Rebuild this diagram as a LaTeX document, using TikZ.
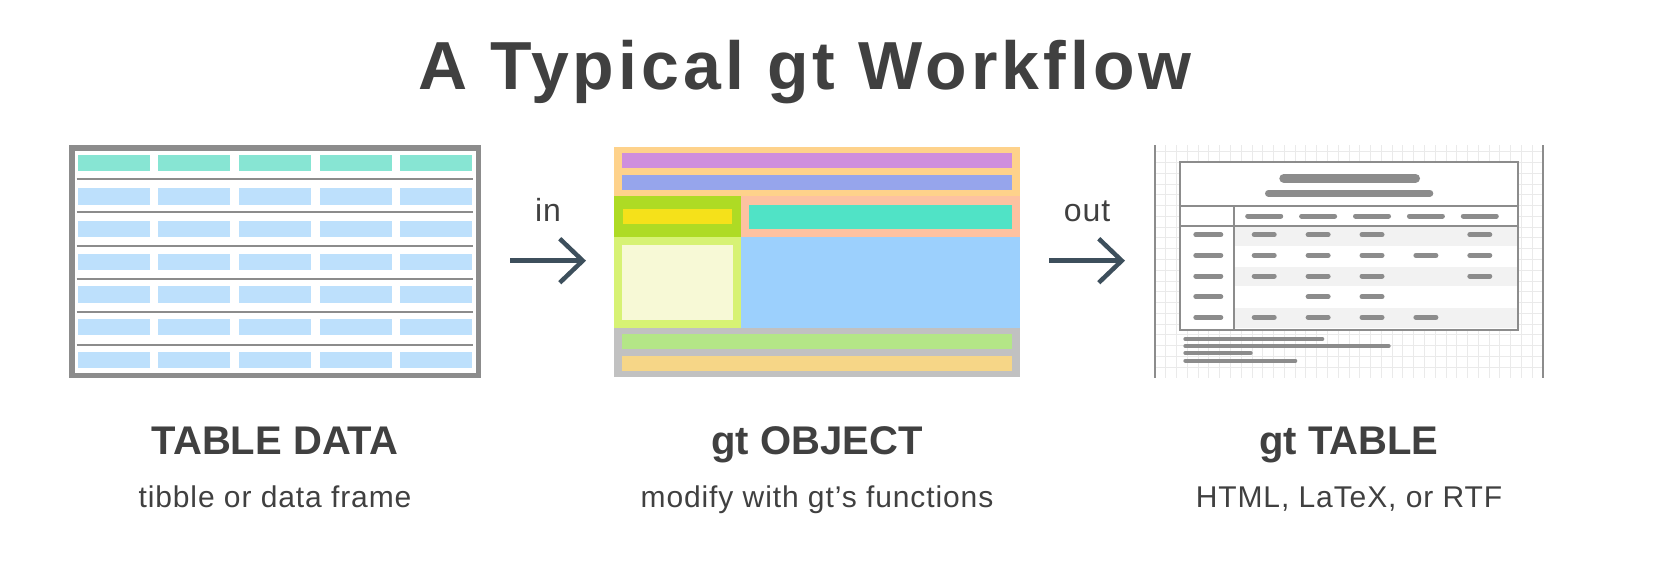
\documentclass[tikz,border=0pt]{standalone}
\usepackage{fontspec}
\setmainfont{Liberation Sans}
\newfontfamily\titlefont[LetterSpace=6]{Liberation Sans}
\newfontfamily\capfont[LetterSpace=3]{Liberation Sans}
\usepackage{tikz}
\usetikzlibrary{positioning,arrows.meta}
\definecolor{ink}{HTML}{404040}
\definecolor{slate}{HTML}{3D4F5C}
\definecolor{framegray}{HTML}{8C8C8C}
\definecolor{gridgray}{HTML}{EAEAEA}
\definecolor{stripe}{HTML}{F2F2F2}
\definecolor{headcell}{HTML}{87E5D3}
\definecolor{datacell}{HTML}{BDE0FC}
\definecolor{objorange}{HTML}{FED28B}
\definecolor{objpurple}{HTML}{CF8EDD}
\definecolor{objviolet}{HTML}{96A5EC}
\definecolor{objolive}{HTML}{AEDB24}
\definecolor{objyellow}{HTML}{F5E11A}
\definecolor{objsalmon}{HTML}{FDC2A1}
\definecolor{objteal}{HTML}{50E3C6}
\definecolor{objlime}{HTML}{D7F274}
\definecolor{objcream}{HTML}{F7F9D6}
\definecolor{objblue}{HTML}{9CD0FD}
\definecolor{objgray}{HTML}{C1C1C1}
\definecolor{objgreen}{HTML}{B4E687}
\definecolor{objsand}{HTML}{F6D687}

\begin{document}
\begin{tikzpicture}[x=1pt, y=-1pt,
    rule/.style={draw=framegray, line width=2pt},
    bar/.style={draw=framegray, line width=5pt, line cap=round},
    gridline/.style={draw=gridgray, line width=1pt},
    heading/.style={anchor=base, text=ink, font=\fontsize{40}{48}\selectfont\bfseries},
    caption/.style={anchor=base, text=ink, font=\capfont\fontsize{30}{36}\selectfont},
    tag/.style={anchor=base, text=ink, font=\capfont\fontsize{32}{38}\selectfont},
    flow/.style={draw=slate, line width=4.5pt, -{Straight Barb[length=23pt, width=44pt]}}]
    \useasboundingbox (0,0) rectangle (1680,566);

    \node[anchor=base, text=ink, font=\titlefont\fontsize{68}{80}\selectfont\bfseries] (title) at (805,89.3) {A Typical gt Workflow};

    % table data
    \draw[framegray, line width=5.5pt] (72,147.8) rectangle (478.3,375.3);
    \foreach \c in {0,...,4} {
        \fill[headcell] ({77.7+\c*80.65},155) rectangle ++(72,16.3);
        \foreach \r in {0,...,5}
            \fill[datacell] ({77.7+\c*80.65},{188.3+\r*32.7}) rectangle ++(72,16.3);
    }
    \foreach \r in {0,...,5}
        \draw[rule] (76.7,{179+\r*33.25}) -- (473,{179+\r*33.25});

    % gt object
    \fill[objorange] (614,147.3) rectangle (1020,196);
    \fill[objpurple] (622.3,153.3) rectangle (1011.7,168.3);
    \fill[objviolet] (622.3,175) rectangle (1011.7,190);
    \fill[objolive] (614,196) rectangle (741,237.3);
    \fill[objyellow] (622.7,209.3) rectangle (732,224);
    \fill[objsalmon] (741,196) rectangle (1020,237.3);
    \fill[objteal] (749.3,204.7) rectangle (1011.7,229);
    \fill[objlime] (614,237.3) rectangle (741,327.7);
    \fill[objcream] (622.3,245.3) rectangle (732.7,320);
    \fill[objblue] (741,237.3) rectangle (1020,327.7);
    \fill[objgray] (614,327.7) rectangle (1020,376.7);
    \fill[objgreen] (622.3,334) rectangle (1011.7,349);
    \fill[objsand] (622.3,355.7) rectangle (1011.7,370.7);

    % gt table
    \foreach \k in {1,...,35}
        \draw[gridline] ({1155+\k*10.78},145) -- ({1155+\k*10.78},378);
    \foreach \k in {0,...,20}
        \draw[gridline] (1155,{151.7+\k*10.78}) -- (1543.3,{151.7+\k*10.78});
    \draw[framegray, line width=2.3pt] (1155,145) -- (1155,378);
    \draw[framegray, line width=2.3pt] (1543.3,145) -- (1543.3,378);
    \fill[white] (1180,162) rectangle (1518.3,330);
    \foreach \y in {226.7,266.7,308.3}
        \fill[stripe] (1234,\y) rectangle (1518.3,{\y+19.5});
    \draw[rule] (1180,162) rectangle (1518.3,330);
    \draw[rule] (1180,206) -- (1518.3,206);
    \draw[rule] (1180,226) -- (1518.3,226);
    \draw[rule] (1234,206) -- (1234,330);
    \draw[bar, line width=9pt] (1283.8,178.3) -- (1415.5,178.3);
    \draw[bar, line width=7pt] (1268.5,193.3) -- (1429.8,193.3);
    \foreach \c in {0,...,4}
        \draw[bar] ({1247.7+\c*53.9},216) -- ({1280.7+\c*53.9},216);
    \foreach \r/\cols in {0/{1,2,3,5}, 1/{1,2,3,4,5}, 2/{1,2,3,5}, 3/{2,3}, 4/{1,2,3,4}} {
        \draw[bar] (1195.8,{234.7+\r*20.65}) -- (1220.8,{234.7+\r*20.65});
        \foreach \c in \cols
            \draw[bar] ({1254.2+(\c-1)*53.9},{234.7+\r*20.65}) -- ({1274.2+(\c-1)*53.9},{234.7+\r*20.65});
    }
    \foreach \y/\e in {339/1324.3, 346/1390.7, 353/1252.7, 360.7/1297.3}
        \draw[bar, line width=4pt] (1185.3,\y) -- ({\e-2},\y);

    % arrows
    \coordinate (inA) at (510,260.7);
    \coordinate (inB) at (586,260.7);
    \coordinate (outA) at (1049.3,260.7);
    \coordinate (outB) at (1125,260.7);
    \draw[flow] (inA) -- (inB);
    \draw[flow] (outA) -- (outB);
    \node[tag] (inLabel) at (548,221.7) {in};
    \node[tag] (outLabel) at (1087,221.7) {out};

    % labels
    \node[heading] (dataHead) at (275,454.3) {TABLE DATA};
    \node[caption] (dataSub) at (275,507.3) {tibble or data frame};
    \node[heading] (objHead) at (817,454.3) {gt OBJECT};
    \node[caption] (objSub) at (817,507.3) {modify with gt’s functions};
    \node[heading] (tabHead) at (1349,454.3) {gt TABLE};
    \node[caption] (tabSub) at (1349,507.3) {HTML, LaTeX, or RTF};
\end{tikzpicture}
\end{document}
